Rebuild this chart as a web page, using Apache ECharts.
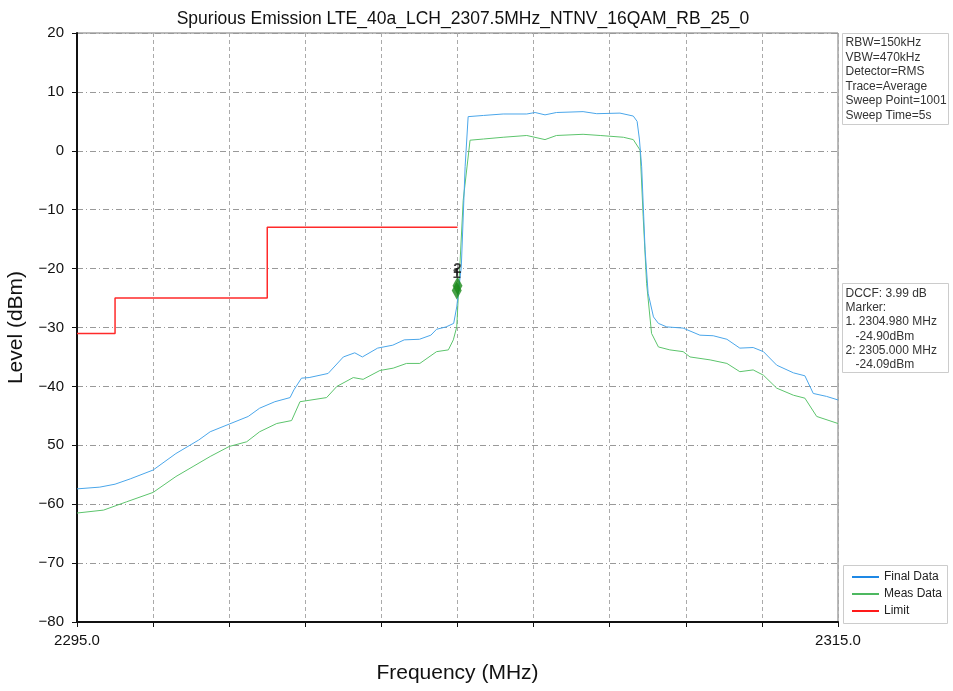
<!DOCTYPE html>
<html>
<head>
<meta charset="utf-8">
<script src="https://cdn.jsdelivr.net/npm/echarts@6/dist/echarts.min.js"></script>
<style>
  html, body { margin: 0; padding: 0; background: #fff; }
  #chart { width: 953px; height: 691px; }
</style>
</head>
<body>
<div id="chart"></div>
<script>
// trace data (MHz, dBm)
const finalFreq = [2295.0, 2295.6, 2296.0, 2296.4, 2297.0, 2297.6, 2298.2, 2298.5, 2299.0, 2299.5, 2299.8, 2300.2, 2300.6, 2300.7, 2300.9, 2301.1, 2301.6, 2302.0, 2302.3, 2302.5, 2302.9, 2303.3, 2303.6, 2304.0, 2304.3, 2304.45, 2304.7, 2304.9, 2304.98, 2305.1, 2305.2, 2305.28, 2305.68, 2306.2, 2306.82, 2307.04, 2307.3, 2307.6, 2308.3, 2308.66, 2309.27, 2309.62, 2309.72, 2309.78, 2309.84, 2309.93, 2310.01, 2310.15, 2310.28, 2310.5, 2310.93, 2311.37, 2311.72, 2312.08, 2312.42, 2312.77, 2313.04, 2313.39, 2313.83, 2314.13, 2314.35, 2314.7, 2315.0];
const finalLevel = [-57.4, -57.1, -56.6, -55.7, -54.2, -51.4, -49.1, -47.7, -46.4, -45.1, -43.7, -42.6, -41.9, -40.6, -38.6, -38.5, -37.8, -35.0, -34.3, -35.0, -33.5, -33.0, -32.1, -32.0, -31.3, -30.3, -29.9, -29.3, -26.5, -19.7, -2.7, 5.8, 6.0, 6.25, 6.25, 6.5, 6.1, 6.5, 6.65, 6.3, 6.4, 5.9, 5.0, 2.0, -2.7, -16.8, -24.2, -28.2, -29.3, -29.9, -30.1, -31.3, -31.4, -32.0, -33.5, -33.4, -34.1, -36.4, -37.7, -38.2, -41.2, -41.7, -42.3];

const measFreq = [2295.0, 2295.7, 2296.3, 2297.0, 2297.6, 2298.05, 2298.5, 2299.0, 2299.46, 2299.8, 2300.25, 2300.64, 2300.86, 2301.56, 2301.83, 2302.26, 2302.52, 2302.96, 2303.31, 2303.66, 2304.01, 2304.45, 2304.76, 2304.89, 2304.98, 2305.15, 2305.33, 2305.68, 2306.2, 2306.82, 2307.3, 2307.6, 2308.3, 2308.75, 2309.36, 2309.62, 2309.8, 2309.88, 2309.97, 2310.1, 2310.28, 2310.58, 2310.93, 2311.11, 2311.64, 2312.08, 2312.42, 2312.77, 2313.04, 2313.39, 2313.83, 2314.13, 2314.44, 2315.0];
const measLevel = [-61.5, -61.0, -59.6, -58.0, -55.3, -53.6, -51.9, -50.2, -49.4, -47.7, -46.3, -45.8, -42.6, -41.9, -40.0, -38.5, -38.8, -37.3, -36.9, -36.1, -36.1, -34.1, -33.8, -32.1, -29.9, -8.4, 1.8, 2.0, 2.3, 2.6, 1.9, 2.6, 2.8, 2.6, 2.3, 1.9, 0.1, -11.2, -22.5, -31.0, -33.3, -33.8, -34.1, -35.0, -35.5, -36.1, -37.5, -37.2, -38.1, -40.3, -41.5, -42.0, -45.1, -46.3];

const limitFreq = [2295, 2296, 2296, 2300, 2300, 2305];
const limitLevel = [-31, -31, -25, -25, -13, -13];

const markerFreq = [2304.98, 2305.0];
const markerLevel = [-24.9, -24.09];
const markerNames = ['1', '2'];

const yTickLabels = { 20: '20', 10: '10', 0: '0', '-10': '\u221210', '-20': '\u221220', '-30': '\u221230', '-40': '\u221240', '-50': '50', '-60': '\u221260', '-70': '\u221270', '-80': '\u221280' };
const xTickLabels = { 2295: '2295.0', 2315: '2315.0' };

const infoLines = ['RBW=150kHz', 'VBW=470kHz', 'Detector=RMS', 'Trace=Average', 'Sweep Point=1001', 'Sweep Time=5s'];
const markerLines = ['DCCF: 3.99 dB', 'Marker:', '1. 2304.980 MHz', '   -24.90dBm', '2: 2305.000 MHz', '   -24.09dBm'];

const zip = (a, b) => a.map((v, i) => [v, b[i]]);
const FONT = '"Liberation Sans", Arial, sans-serif';

const chart = echarts.init(document.getElementById('chart'));

const option = {
  animation: false,
  textStyle: { fontFamily: FONT },
  title: {
    text: 'Spurious Emission LTE_40a_LCH_2307.5MHz_NTNV_16QAM_RB_25_0',
    left: 458, top: 5, textAlign: 'center',
    textStyle: { fontSize: 17.5, fontWeight: 'normal', color: '#111', fontFamily: FONT },
  },
  grid: {
    left: 77, right: 115, top: 33, bottom: 69,
    outerBoundsMode: 'none', containLabel: false,
    show: true, borderColor: '#777', borderWidth: 1,
  },
  legend: {
    orient: 'vertical',
    left: 847, top: 566,
    itemWidth: 27, itemHeight: 2, itemGap: 5,
    icon: 'rect',
    textStyle: { fontSize: 12, color: '#222', fontFamily: FONT },
    data: ['Final Data', 'Meas Data', 'Limit'],
  },
  xAxis: {
    type: 'value', min: 2295, max: 2315, interval: 2,
    name: 'Frequency (MHz)', nameLocation: 'middle', nameGap: 41,
    nameTextStyle: { fontSize: 21, color: '#111', fontFamily: FONT },
    axisLine: { onZero: false, lineStyle: { color: '#111', width: 2 } },
    axisTick: { show: true, length: 5, lineStyle: { color: '#111' } },
    axisLabel: { fontSize: 15, color: '#111', margin: 11, formatter: (v) => xTickLabels[v] || '' },
    splitLine: { show: true, lineStyle: { color: '#aaa', type: [4, 3], width: 1 } },
  },
  yAxis: {
    type: 'value', min: -80, max: 20, interval: 10,
    name: 'Level (dBm)', nameLocation: 'middle', nameGap: 50,
    nameTextStyle: { fontSize: 21, color: '#111', fontFamily: FONT },
    axisLine: { show: true, onZero: false, lineStyle: { color: '#111', width: 2 } },
    axisTick: { show: true, length: 5, lineStyle: { color: '#111' } },
    axisLabel: { fontSize: 15, color: '#111', margin: 13, formatter: (v) => yTickLabels[v] },
    splitLine: { show: true, lineStyle: { color: '#999', type: [6, 3, 1, 3], width: 1 } },
  },
  series: [
    {
      name: 'Final Data', type: 'line', showSymbol: false, symbol: 'none',
      data: zip(finalFreq, finalLevel),
      lineStyle: { color: '#4aa6ea', width: 1 },
      itemStyle: { color: '#1e88e5' },
      z: 3,
    },
    {
      name: 'Meas Data', type: 'line', showSymbol: false, symbol: 'none',
      data: zip(measFreq, measLevel),
      lineStyle: { color: '#5cc46c', width: 1 },
      itemStyle: { color: '#4db860' },
      z: 2,
    },
    {
      name: 'Limit', type: 'line', showSymbol: false, symbol: 'none',
      data: zip(limitFreq, limitLevel),
      lineStyle: { color: '#ff2a2a', width: 1.5 },
      itemStyle: { color: '#ff1a1a' },
      z: 4,
    },
    {
      name: 'Markers', type: 'scatter',
      data: markerFreq.map((f, i) => ({ value: [f, markerLevel[i]], name: markerNames[i] })),
      symbol: 'diamond', symbolSize: [10, 18], symbolOffset: [0, -7],
      itemStyle: { color: '#1a8a1a' },
      label: {
        show: true, position: 'top', distance: 0,
        formatter: (p) => p.name,
        fontSize: 15, fontWeight: 'bold', color: '#111',
      },
      z: 5,
    },
  ],
  graphic: [
    {
      type: 'group', left: 842, top: 33,
      children: [
        { type: 'rect', shape: { x: 0, y: 0, width: 106, height: 91 }, style: { fill: '#fff', stroke: '#ccc', lineWidth: 1 } },
        { type: 'text', x: 3, y: 2, style: { text: infoLines.join('\n'), font: '12px ' + FONT, fill: '#333', lineHeight: 14.5 } },
      ],
    },
    {
      type: 'group', left: 842, top: 283,
      children: [
        { type: 'rect', shape: { x: 0, y: 0, width: 106, height: 89 }, style: { fill: '#fff', stroke: '#ccc', lineWidth: 1 } },
        { type: 'text', x: 3, y: 3, style: { text: markerLines.join('\n'), font: '12px ' + FONT, fill: '#333', lineHeight: 14.2 } },
      ],
    },
    {
      type: 'rect', left: 843, top: 565, z: -1,
      shape: { x: 0, y: 0, width: 104, height: 58 },
      style: { fill: '#fff', stroke: '#ccc', lineWidth: 1 },
    },
  ],
};

chart.setOption(option);
</script>
</body>
</html>
